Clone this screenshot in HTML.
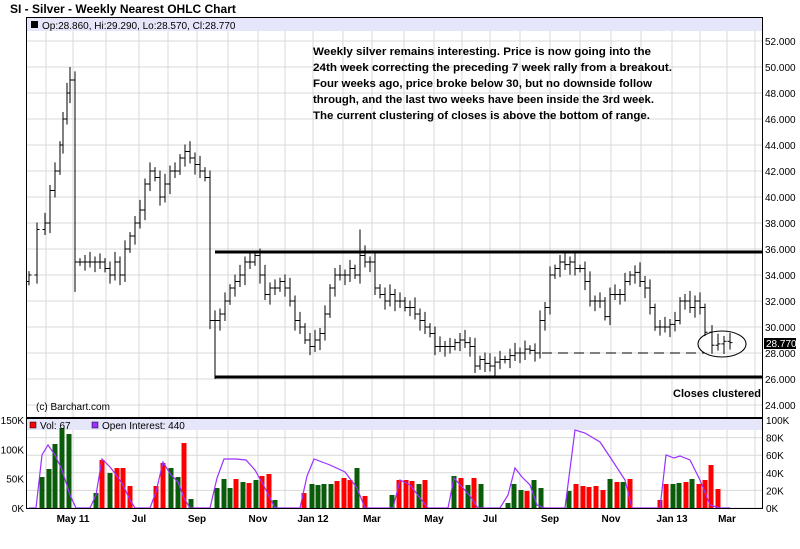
<!DOCTYPE html>
<html><head><meta charset="utf-8"><style>
body{margin:0;background:#fff;width:800px;height:544px;overflow:hidden;font-family:"Liberation Sans",sans-serif}
</style></head><body>
<svg id="s" width="800" height="544" xmlns="http://www.w3.org/2000/svg" font-family="Liberation Sans, sans-serif">
<text x="10" y="13" font-size="12" font-weight="bold">SI - Silver - Weekly Nearest OHLC Chart</text>
<g id="grid" stroke="#d8d8d8" stroke-width="1"></g>
<rect x="27" y="18" width="735" height="13" fill="#e6e6fa"/>
<rect x="27" y="419" width="735" height="11" fill="#e6e6fa"/>
<rect x="31" y="21" width="7" height="7" fill="#000"/>
<text x="42" y="29" font-size="10">Op:28.860, Hi:29.290, Lo:28.570, Cl:28.770</text>
<g id="bars" stroke="#000" stroke-width="1"></g>
<g id="vol"></g>
<polyline id="oi" fill="none" stroke="#9b30ff" stroke-width="1.2"/>
<rect x="26.5" y="17.5" width="736" height="491" fill="none" stroke="#000"/>
<line x1="26" y1="418" x2="762" y2="418" stroke="#000" stroke-width="2"/>
<line x1="215" y1="252" x2="762" y2="252" stroke="#000" stroke-width="3"/>
<line x1="215" y1="377" x2="762" y2="377" stroke="#000" stroke-width="3"/>
<line x1="542" y1="353" x2="705" y2="353" stroke="#000" stroke-dasharray="10,6"/>
<ellipse cx="722" cy="344" rx="24" ry="13" fill="none" stroke="#000"/>
<g font-size="11" font-weight="bold" font-family="Liberation Sans, sans-serif">
<text x="313" y="55" textLength="338" lengthAdjust="spacingAndGlyphs">Weekly silver remains interesting. Price is now going into the</text>
<text x="313" y="71" textLength="359" lengthAdjust="spacingAndGlyphs">24th week correcting the preceding 7 week rally from a breakout.</text>
<text x="313" y="87" textLength="339" lengthAdjust="spacingAndGlyphs">Four weeks ago, price broke below 30, but no downside follow</text>
<text x="313" y="103" textLength="341" lengthAdjust="spacingAndGlyphs">through, and the last two weeks have been inside the 3rd week.</text>
<text x="313" y="119" textLength="337" lengthAdjust="spacingAndGlyphs">The current clustering of closes is above the bottom of range.</text>
<text x="673" y="397" textLength="88" lengthAdjust="spacingAndGlyphs">Closes clustered</text>
</g>
<text x="36" y="410" font-size="10">(c) Barchart.com</text>
<rect x="30" y="422" width="6" height="6" fill="#f00" stroke="#000" stroke-width=".5"/>
<text x="40" y="429" font-size="10">Vol: 67</text>
<rect x="92" y="422" width="6" height="6" fill="#9b30ff" stroke="#000" stroke-width=".5"/>
<text x="102" y="429" font-size="10">Open Interest: 440</text>
<g id="lab" font-size="10"></g>
<rect x="764" y="338" width="32" height="11" fill="#000"/>
<text x="766" y="347" font-size="10" fill="#fff">28.770</text>
</svg>
<script>
const NS="http://www.w3.org/2000/svg";
function el(p,t,a,txt){const e=document.createElementNS(NS,t);for(const k in a)e.setAttribute(k,a[k]);if(txt!==undefined)e.textContent=txt;document.getElementById(p).appendChild(e);return e;}
const Y=v=>41+(52-v)*13;
for(let v=24;v<=52;v+=2){el('grid','line',{x1:27,x2:762,y1:Y(v),y2:Y(v)});el('lab','text',{x:765,y:Y(v)+4},v.toFixed(3));}
for(let k=0;k<5;k++){const y=508-k*17.6;el('grid','line',{x1:27,x2:762,y1:y,y2:y});}
const mx=[46,73,106,139,168,197,228,258,285,313,343,372,404,434,462,490,520,550,580,611,641,672,700,727,755];
mx.forEach(x=>el('grid','line',{x1:x,x2:x,y1:31,y2:508}));
[["May 11",73],["Jul",139],["Sep",197],["Nov",258],["Jan 12",313],["Mar",372],["May",434],["Jul",490],["Sep",550],["Nov",611],["Jan 13",672],["Mar",727]].forEach(([t,x])=>el('lab','text',{x:x,y:522,'text-anchor':'middle','font-weight':'bold'},t));
["150K","100K","50K","0K"].forEach((t,i)=>el('lab','text',{x:24,y:424+i*29.3,'text-anchor':'end'},t));
["100K","80K","60K","40K","20K","0K"].forEach((t,i)=>el('lab','text',{x:766,y:424+i*17.6},t));
const c=[[29,34],[37,37.5],[45,38],[50,40.5],[55,42],[60,44],[63,46],[67,48],[70,49],[75,35],[80,35],[85,35],[90,35],[95,35],[100,35],[105,34.5],[110,34],[115,35],[120,34],[125,36],[130,37],[135,38],[140,39],[145,41],[150,42],[155,41.5],[160,40],[165,41],[170,42],[175,42],[180,43],[185,43.5],[190,43],[195,42.5],[200,42],[205,41.5],[210,30.5],[215,30.5],[220,31],[225,32],[230,33],[235,33.5],[240,34],[245,35],[250,35],[255,35.5],[260,34],[265,32.5],[270,33],[275,33],[280,33.5],[285,33],[290,32],[295,30.5],[300,30],[305,29],[310,28.5],[315,29],[320,29.5],[325,31],[330,33],[335,34],[340,34],[345,34],[350,34.5],[355,34],[360,35.5],[365,35],[370,35],[375,33],[380,32.5],[385,32],[390,32.5],[395,32],[400,32],[405,31.5],[410,31.5],[415,31],[420,30.5],[425,30],[430,29.5],[435,28.5],[440,28.5],[445,28.5],[450,28.5],[455,28.8],[460,29],[465,28.8],[470,28.5],[475,27],[480,27.5],[485,27.2],[490,27],[495,27.3],[500,27.5],[505,27.5],[510,27.8],[515,28],[520,28],[525,28.3],[530,28.2],[535,28],[540,30.5],[545,31.5],[550,34],[555,34.5],[560,35],[565,34.8],[570,35],[575,34.5],[580,34.5],[585,33.5],[590,32],[595,32],[600,32],[605,30.8],[610,32.5],[615,32.5],[620,32.5],[625,33.5],[630,34],[635,34.2],[640,33.5],[645,33],[650,31.5],[655,30],[660,30],[665,30],[670,30.2],[675,30.5],[680,32],[685,32],[690,31.5],[695,32],[700,31.5],[705,29.6],[712,28.6],[718,28.7],[724,28.9],[730,28.8]];
let pc=33.5;
c.forEach(([x,cl],i)=>{const o=pc;let hi=Math.max(o,cl)+0.3+((i*7)%5)*0.12,lo=Math.min(o,cl)-0.3-((i*3)%5)*0.12;
if(x==70)hi=50;if(x==75)lo=32.7;if(x==215)lo=26;if(x==360)hi=37.5;if(x==190)hi=44.3;
el('bars','line',{x1:x,x2:x,y1:Y(hi),y2:Y(lo)});el('bars','line',{x1:x-2.5,x2:x,y1:Y(o),y2:Y(o)});el('bars','line',{x1:x,x2:x+2.5,y1:Y(cl),y2:Y(cl)});pc=cl;});
const vb=[[42,31,'g'],[49,39,'g'],[55,64,'g'],[62,80,'g'],[69,74,'g'],[96,15,'g'],[102,48,'r'],[110,35,'g'],[117,40,'r'],[123,40,'r'],[130,22,'r'],[156,22,'r'],[163,45,'r'],[171,40,'g'],[178,31,'g'],[184,65,'r'],[191,9,'g'],[217,20,'g'],[224,29,'g'],[230,20,'g'],[236,29,'r'],[243,26,'g'],[249,25,'r'],[256,28,'g'],[262,32,'r'],[269,34,'r'],[275,8,'g'],[304,15,'r'],[312,24,'g'],[318,23,'g'],[324,24,'g'],[331,24,'g'],[337,27,'r'],[344,30,'r'],[350,28,'r'],[357,40,'g'],[365,12,'r'],[392,13,'g'],[399,28,'r'],[406,28,'r'],[412,27,'r'],[419,24,'g'],[425,28,'r'],[454,32,'g'],[461,30,'r'],[468,23,'g'],[474,30,'r'],[481,24,'g'],[508,5,'g'],[514,24,'g'],[521,18,'g'],[527,17,'r'],[534,28,'g'],[541,20,'g'],[569,17,'g'],[576,24,'r'],[583,22,'r'],[589,21,'r'],[596,22,'r'],[603,18,'r'],[610,29,'g'],[617,26,'r'],[623,26,'g'],[630,29,'r'],[660,8,'r'],[666,24,'r'],[673,24,'g'],[679,25,'g'],[686,26,'r'],[692,29,'g'],[699,24,'r'],[705,28,'r'],[711,43,'r'],[718,19,'r']];
vb.forEach(([x,h,col])=>el('vol','rect',{x:x-2.5,y:508-h,width:5,height:h,fill:col=='g'?'#0a5c0a':'#f00'}));
const oi=[[29,508],[36,508],[42,455],[48,445],[55,455],[62,470],[70,495],[76,508],[90,508],[96,495],[102,459],[110,467],[117,476],[123,485],[130,500],[135,508],[150,508],[156,492],[163,462],[171,475],[178,482],[184,498],[190,508],[210,508],[217,478],[224,459],[236,459],[246,460],[255,470],[265,488],[275,508],[300,508],[307,476],[314,459],[330,465],[345,472],[357,488],[365,508],[393,508],[400,480],[410,485],[420,498],[428,508],[448,508],[454,478],[462,487],[470,496],[478,508],[500,508],[508,495],[515,468],[522,477],[530,485],[537,505],[545,508],[565,508],[575,430],[585,433],[600,442],[612,460],[625,480],[632,508],[660,508],[666,455],[674,458],[680,456],[690,460],[700,480],[710,505],[720,508],[730,508]];
document.getElementById('oi').setAttribute('points',oi.map(p=>p.join(',')).join(' '));
</script>
</body></html>
